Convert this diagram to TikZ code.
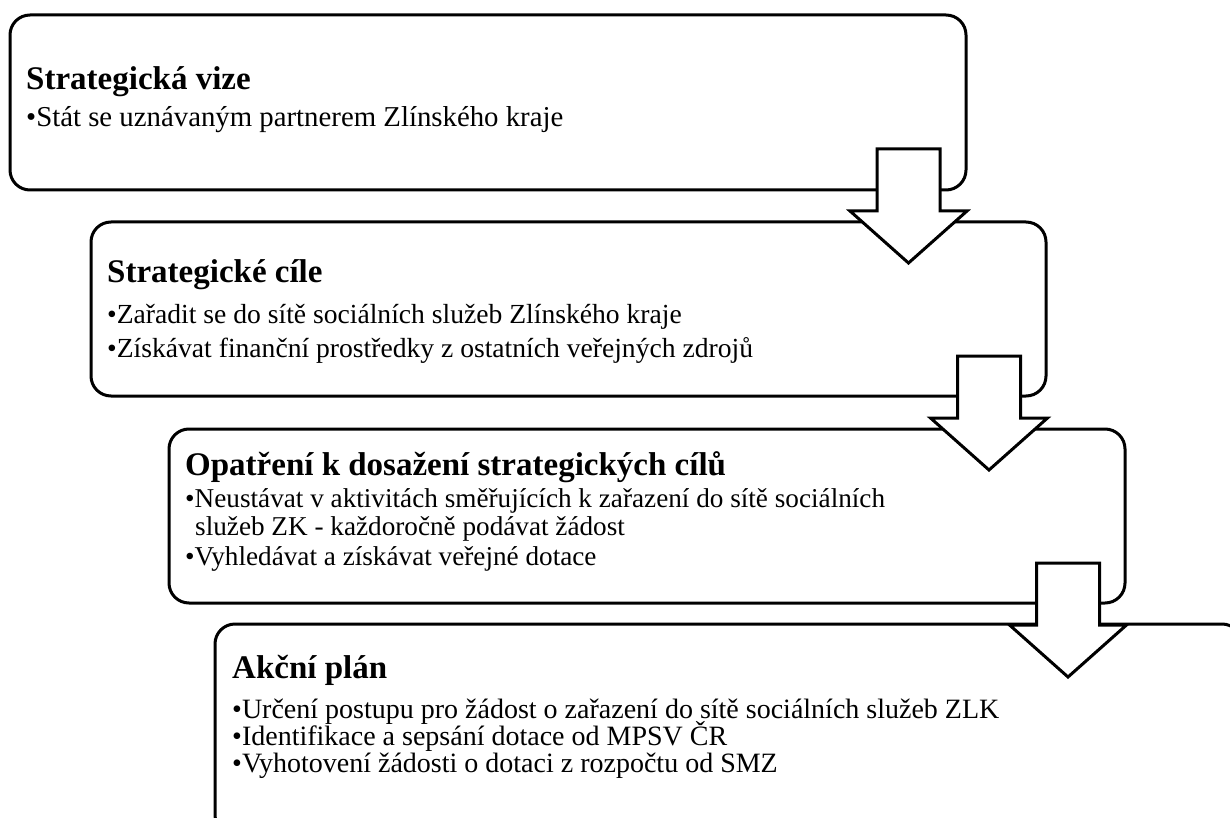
\documentclass[tikz,border=0pt]{standalone}
\usepackage{fontspec}
\setmainfont{Liberation Serif}
\tikzset{
  box/.style={draw=black, line width=3pt, rounded corners=20pt, fill=white},
  title/.style={anchor=base west, inner sep=0pt, font=\fontsize{33}{38}\selectfont\bfseries},
  item/.style={anchor=base west, inner sep=0pt, font=\fontsize{28}{30}\selectfont},
  arrowline/.style={draw=black, line width=3pt, fill=white, line join=miter},
  downarrow/.pic={\path[arrowline] (-31.5,0) -- (31.5,0) -- (31.5,62) -- (58.5,62) -- (0,114) -- (-58.5,62) -- (-31.5,62) -- cycle;}
}
\begin{document}
\begin{tikzpicture}[x=1pt,y=-1pt]
\useasboundingbox (0,0) rectangle (1230,818);
\clip (0,0) rectangle (1230,818);
\fill[white] (0,0) rectangle (1230,818);
% boxes
\path[box] (10,15) rectangle (966,190);
\node[inner sep=0] (b1) at (488,102) {};
\path[box] (91,222) rectangle (1046,396);
\node[inner sep=0] (b2) at (568,309) {};
\path[box] (169,429) rectangle (1125,603);
\node[inner sep=0] (b3) at (647,516) {};
\path[box] (215,624) rectangle (1242,835);
\node[inner sep=0] (b4) at (728,730) {};
% texts box 1
\node[title] (t1) at (26,90) {Strategická vize};
\node[item, font=\fontsize{28.8}{30}\selectfont] (t1a) at (26,127) {•Stát se uznávaným partnerem Zlínského kraje};
% box 2
\node[title] (t2) at (107,282) {Strategické cíle};
\node[item, font=\fontsize{27.6}{30}\selectfont] (t2a) at (107,323) {•Zařadit se do sítě sociálních služeb Zlínského kraje};
\node[item, font=\fontsize{27.6}{30}\selectfont] (t2b) at (107,357) {•Získávat finanční prostředky z ostatních veřejných zdrojů};
% box 3
\node[title] (t3) at (185,475) {Opatření k dosažení strategických cílů};
\node[item, font=\fontsize{27.2}{30}\selectfont] (t3a) at (185,507) {•Neustávat v aktivitách směřujících k zařazení do sítě sociálních};
\node[item, font=\fontsize{27.2}{30}\selectfont] (t3b) at (195,535) {služeb ZK - každoročně podávat žádost};
\node[item, font=\fontsize{27.2}{30}\selectfont] (t3c) at (185,565) {•Vyhledávat a získávat veřejné dotace};
% box 4
\node[title] (t4) at (232,678) {Akční plán};
\node[item] (t4a) at (232,718) {•Určení postupu pro žádost o zařazení do sítě sociálních služeb ZLK};
\node[item] (t4b) at (232,745) {•Identifikace a sepsání dotace od MPSV ČR};
\node[item] (t4c) at (232,772) {•Vyhotovení žádosti o dotaci z rozpočtu od SMZ};
% arrows
\pic at (908.5,149) {downarrow};
\pic at (989,356) {downarrow};
\pic at (1068,563) {downarrow};
\end{tikzpicture}
\end{document}
